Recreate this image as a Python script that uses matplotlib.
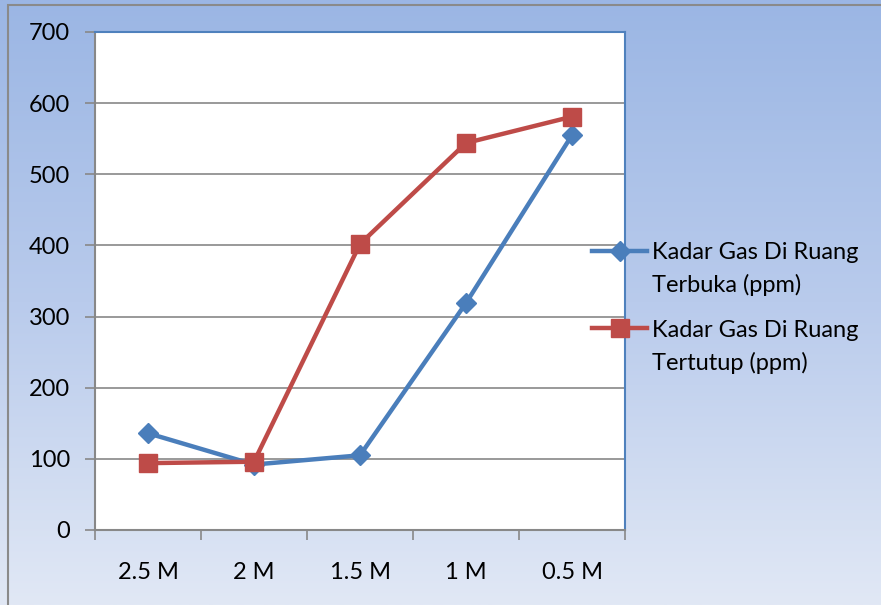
import matplotlib.pyplot as plt
import numpy as np
from matplotlib.colors import LinearSegmentedColormap
from matplotlib.patches import Rectangle
from matplotlib.transforms import ScaledTranslation

plt.rcParams["font.family"] = ["Lato", "DejaVu Sans"]

# gas concentration per solution strength
categories = ["2.5 M", "2 M", "1.5 M", "1 M", "0.5 M"]
terbuka = [136, 92, 105, 319, 555]
tertutup = [94, 96, 402, 544, 581]
labels = ["Kadar Gas Di Ruang\nTerbuka (ppm)", "Kadar Gas Di Ruang\nTertutup (ppm)"]

W, H = 881, 605
fig = plt.figure(figsize=(W / 100, H / 100), dpi=100)

# gradient backdrop behind the chart
bg = fig.add_axes([0, 0, 1, 1], zorder=-10)
grad = LinearSegmentedColormap.from_list("bg", ["#9bb6e4", "#b9cbec", "#e1e8f5"])
bg.imshow(np.linspace(0, 1, 256).reshape(-1, 1), aspect="auto", cmap=grad,
          extent=[0, 1, 0, 1], origin="upper")
bg.set_axis_off()
fig.patches.append(Rectangle((8 / W, -0.1), 1.2, 1.1 - 5 / H, transform=fig.transFigure,
                             fill=False, edgecolor="#8a8a8a", lw=1.5, zorder=5))

ax = fig.add_axes([95 / W, 1 - 530 / H, 530 / W, 498 / H])
ax.set_facecolor("white")
x = np.arange(len(categories))

ax.plot(x, terbuka, color="#4a7ebb", lw=3.2, marker="D", ms=10.5,
        mec="#4a7ebb", label=labels[0], zorder=3)
ax.plot(x, tertutup, color="#be4b48", lw=3.2, marker="s", ms=13,
        mec="#be4b48", label=labels[1], zorder=4)

ax.set_xlim(-0.5, len(categories) - 0.5)
ax.set_ylim(0, 700)
ax.set_yticks(range(0, 701, 100))
ax.yaxis.grid(True, color="#888888", lw=1.2)
ax.set_axisbelow(True)

ax.set_xticks(np.arange(-0.5, len(categories), 1))
ax.set_xticklabels([])
ax.set_xticks(x, minor=True)
ax.set_xticklabels(categories, minor=True)
ax.tick_params(axis="x", which="major", length=7, width=1.2, color="#888888")
ax.tick_params(axis="x", which="minor", length=0, pad=23, labelsize=17)
ax.tick_params(axis="y", length=7, width=1.2, color="#888888", pad=11, labelsize=17)

for side in ["left", "bottom"]:
    ax.spines[side].set_color("#888888")
    ax.spines[side].set_linewidth(1.5)
for side in ["top", "right"]:
    ax.spines[side].set_color("#4f81bd")
    ax.spines[side].set_linewidth(1.5)

leg = ax.legend(loc="upper left", bbox_to_anchor=(592 / W, 1 - 242 / H),
                bbox_transform=fig.transFigure, frameon=False, fontsize=17,
                handlelength=2.35, handletextpad=0.2, labelspacing=1.0,
                borderpad=0, borderaxespad=0)
for t in leg.get_texts():
    t.set_linespacing(1.6)
# keep each legend swatch level with the first line of its label
shift = ScaledTranslation(0, 18.5 / 100, fig.dpi_scale_trans)
for h in leg.legend_handles:
    h.set_transform(h.get_transform() + shift)

fig.savefig("out.png", dpi=100)
